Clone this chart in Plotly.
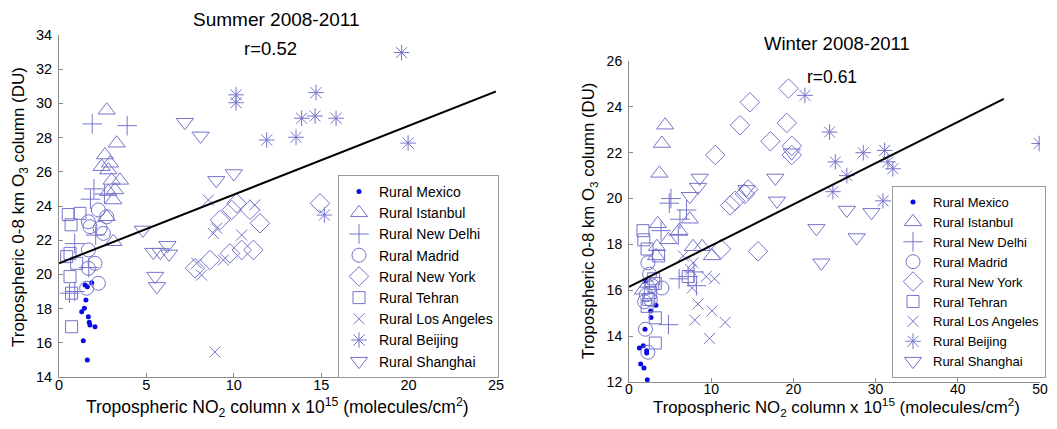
import plotly.graph_objects as go

# ---------------- Data: Summer (left) ----------------
s_mexico_x = [1.49, 1.62, 1.87, 1.54, 1.45, 1.30, 1.68, 1.73, 1.77, 2.06, 1.39, 1.62]
s_mexico_y = [19.38, 19.28, 19.51, 18.50, 18.02, 17.82, 17.53, 17.20, 17.04, 16.94, 16.12, 15.0]
s_istanbul_x = [2.73, 3.30, 2.63, 2.92, 2.44, 2.82, 3.01, 3.49, 2.82, 3.20, 3.11, 2.73, 3.11]
s_istanbul_y = [29.6, 27.67, 26.98, 26.5, 26.3, 26.1, 25.5, 25.5, 24.84, 24.94, 24.35, 23.37, 21.91]
s_delhi_x = [1.9, 3.9, 2.0, 1.8, 2.6, 0.9, 1.7, 2.1, 0.6, 0.9]
s_delhi_y = [28.8, 28.7, 25.0, 24.4, 24.7, 21.8, 20.4, 22.3, 18.9, 19.0]
s_madrid_x = [2.25, 1.68, 1.77, 2.35, 2.73, 2.54, 1.68, 2.06, 1.68, 2.25, 1.58]
s_madrid_y = [23.77, 23.08, 22.79, 22.7, 23.37, 22.4, 21.43, 20.65, 20.36, 19.48, 19.19]
s_newyork_x = [10.16, 9.88, 10.93, 9.21, 11.5, 9.78, 10.45, 11.12, 8.64, 7.78, 14.93]
s_newyork_y = [24.16, 23.77, 23.77, 23.18, 22.99, 21.23, 21.43, 21.43, 20.84, 20.36, 24.16]
s_tehran_x = [0.53, 1.2, 0.69, 0.63, 0.44, 1.01, 0.63, 0.72, 0.72]
s_tehran_y = [23.5, 23.57, 22.9, 21.23, 21.04, 20.65, 19.87, 18.9, 16.94]
s_la_x = [8.54, 10.45, 9.4, 8.16, 7.88, 9.02, 8.83, 11.2, 8.92]
s_la_y = [24.35, 22.3, 20.84, 19.96, 20.65, 22.7, 22.4, 24.06, 15.46]
s_beijing_x = [19.6, 10.13, 10.13, 14.7, 13.88, 14.65, 15.85, 11.88, 13.56, 15.18, 19.97]
s_beijing_y = [32.97, 30.5, 30.04, 30.63, 29.13, 29.26, 29.13, 27.86, 28.02, 23.47, 27.68]
s_shanghai_x = [7.2, 8.1, 9.0, 10.0, 4.8, 5.4, 5.8, 6.2, 6.3, 5.5, 5.6]
s_shanghai_y = [28.9, 28.1, 25.5, 25.9, 22.6, 21.3, 21.3, 21.7, 21.2, 19.9, 19.3]
s_fit_x = [0, 25]
s_fit_y = [20.65, 30.7]

# ---------------- Data: Winter (right) ----------------
w_mexico_x = [2.03, 3.28, 2.64, 2.68, 1.95, 1.26, 1.74, 2.15, 2.15, 1.42, 1.82, 2.23]
w_mexico_y = [16.4, 15.35, 15.1, 14.81, 14.3, 13.48, 13.58, 13.36, 13.26, 12.78, 12.61, 12.1]
w_istanbul_x = [4.4, 4.0, 3.7, 7.4, 6.1, 4.8, 3.5, 3.4, 7.8, 8.9, 10.1, 1.7, 2.3, 3.3]
w_istanbul_y = [23.2, 22.4, 21.1, 19.1, 18.6, 18.2, 18.9, 17.9, 17.9, 17.9, 17.5, 16.0, 16.3, 17.5]
w_delhi_x = [5.1, 4.9, 7.0, 6.2, 6.0, 3.9, 6.1, 7.2, 7.9, 8.2, 4.8]
w_delhi_y = [20.0, 19.8, 19.5, 19.1, 18.4, 18.6, 16.5, 16.6, 16.8, 16.2, 14.5]
w_madrid_x = [2.3, 2.5, 4.0, 2.1, 1.9, 2.8, 2.0, 2.3, 2.6]
w_madrid_y = [17.2, 16.7, 16.1, 15.8, 15.5, 16.2, 14.3, 13.3, 15.6]
w_newyork_x = [19.4, 14.7, 13.5, 19.2, 17.2, 19.8, 19.8, 10.5, 14.5, 14.1, 12.9, 12.3, 11.2, 15.7]
w_newyork_y = [24.8, 24.2, 23.2, 23.3, 22.5, 22.3, 21.9, 21.9, 20.4, 20.2, 19.9, 19.7, 17.8, 17.7]
w_tehran_x = [1.7, 1.8, 2.2, 3.6, 3.0, 3.2, 2.6, 2.2, 3.2, 3.2, 7.2, 2.4]
w_tehran_y = [18.6, 18.2, 17.8, 17.5, 16.5, 16.3, 15.9, 15.3, 14.8, 13.7, 16.6, 15.6]
w_la_x = [6.6, 7.8, 7.5, 9.4, 10.4, 7.7, 8.4, 10.1, 11.7, 8.0, 9.8]
w_la_y = [17.5, 17.2, 16.9, 16.6, 16.5, 16.1, 15.4, 15.1, 14.6, 14.7, 13.9]
w_beijing_x = [21.4, 24.4, 25.1, 28.5, 31.1, 31.5, 32.1, 26.5, 24.8, 30.9, 49.9]
w_beijing_y = [24.5, 22.9, 21.6, 22.0, 22.1, 21.6, 21.3, 21.0, 20.3, 19.9, 22.4]
w_shanghai_x = [8.6, 8.4, 7.4, 14.3, 17.8, 18.0, 19.8, 22.8, 23.4, 26.5, 29.5, 27.7]
w_shanghai_y = [20.9, 20.5, 20.1, 20.4, 20.9, 19.9, 22.0, 18.7, 17.2, 19.5, 19.4, 18.3]
w_fit_x = [0, 45.6]
w_fit_y = [16.15, 24.35]

names = ["Rural Mexico", "Rural Istanbul", "Rural New Delhi", "Rural Madrid",
         "Rural New York", "Rural Tehran", "Rural Los Angeles", "Rural Beijing",
         "Rural Shanghai"]

summer = [(s_mexico_x, s_mexico_y), (s_istanbul_x, s_istanbul_y), (s_delhi_x, s_delhi_y),
          (s_madrid_x, s_madrid_y), (s_newyork_x, s_newyork_y), (s_tehran_x, s_tehran_y),
          (s_la_x, s_la_y), (s_beijing_x, s_beijing_y), (s_shanghai_x, s_shanghai_y)]
winter = [(w_mexico_x, w_mexico_y), (w_istanbul_x, w_istanbul_y), (w_delhi_x, w_delhi_y),
          (w_madrid_x, w_madrid_y), (w_newyork_x, w_newyork_y), (w_tehran_x, w_tehran_y),
          (w_la_x, w_la_y), (w_beijing_x, w_beijing_y), (w_shanghai_x, w_shanghai_y)]

OPEN = "#7474cc"
styles = [
    dict(symbol="circle", size=5, color="#0a0ae8", line=dict(width=0)),
    dict(symbol="triangle-up-open", size=15, color=OPEN, line=dict(width=1)),
    dict(symbol="cross-thin-open", size=14, color=OPEN, line=dict(width=1, color=OPEN)),
    dict(symbol="circle-open", size=14, color=OPEN, line=dict(width=1)),
    dict(symbol="diamond-open", size=15, color=OPEN, line=dict(width=1)),
    dict(symbol="square-open", size=12, color=OPEN, line=dict(width=1)),
    dict(symbol="x-thin-open", size=11, color=OPEN, line=dict(width=1, color=OPEN)),
    dict(symbol="asterisk-open", size=13, color=OPEN, line=dict(width=1, color=OPEN)),
    dict(symbol="triangle-down-open", size=15, color=OPEN, line=dict(width=1)),
]

FONT = "Arial, Liberation Sans, sans-serif"
fig = go.Figure()

for i, (xs, ys) in enumerate(summer):
    fig.add_trace(go.Scatter(x=xs, y=ys, mode="markers", name=names[i], marker=styles[i],
                             xaxis="x", yaxis="y", legend="legend"))
fig.add_trace(go.Scatter(x=s_fit_x, y=s_fit_y, mode="lines", line=dict(color="black", width=2),
                         showlegend=False, xaxis="x", yaxis="y"))
for i, (xs, ys) in enumerate(winter):
    fig.add_trace(go.Scatter(x=xs, y=ys, mode="markers", name=names[i], marker=styles[i],
                             xaxis="x2", yaxis="y2", legend="legend2"))
fig.add_trace(go.Scatter(x=w_fit_x, y=w_fit_y, mode="lines", line=dict(color="black", width=2),
                         showlegend=False, xaxis="x2", yaxis="y2"))

# page body has an 8px margin: figure sized to fit inside the 1057x429 window
OFF = 8
W, H = 1057 - 2 * OFF, 429 - 2 * OFF
def px(v): return (v - OFF) / W
def py(v): return 1 - (v - OFF) / H

def axis_style(fs, standoff):
    return dict(showline=True, linecolor="#8c8c8c", linewidth=1, ticks="inside", ticklen=4,
                tickcolor="#8c8c8c", showgrid=False, zeroline=False, mirror=False,
                automargin=False, ticklabelstandoff=standoff,
                tickfont=dict(family=FONT, size=fs, color="black"))

fig.update_layout(
    width=W, height=H, margin=dict(l=0, r=0, t=0, b=0, autoexpand=False),
    paper_bgcolor="white", plot_bgcolor="white",
    font=dict(family=FONT, color="black"),
    xaxis=dict(domain=[px(59), px(496)], range=[0, 25], tickvals=[0, 5, 10, 15, 20, 25],
               anchor="y", **axis_style(14.5, -5)),
    yaxis=dict(domain=[py(377), py(35)], range=[14, 34],
               tickvals=[14, 16, 18, 20, 22, 24, 26, 28, 30, 32, 34], anchor="x",
               **axis_style(14.5, 3)),
    xaxis2=dict(domain=[px(629), px(1040)], range=[0, 50], tickvals=[0, 10, 20, 30, 40, 50],
                anchor="y2", **axis_style(14, -6)),
    yaxis2=dict(domain=[py(382), py(61)], range=[12, 26],
                tickvals=[12, 14, 16, 18, 20, 22, 24, 26], anchor="x2", **axis_style(14, 3)),
    legend=dict(x=px(499), y=py(378), xanchor="right", yanchor="bottom", bgcolor="white",
                bordercolor="#9a9a9a", borderwidth=1, font=dict(family=FONT, size=14),
                itemwidth=30, tracegroupgap=0),
    legend2=dict(x=px(1046), y=py(378), xanchor="right", yanchor="bottom", bgcolor="white",
                 bordercolor="#9a9a9a", borderwidth=1, font=dict(family=FONT, size=13),
                 itemwidth=30, tracegroupgap=0),
)

xt = "Tropospheric NO<sub>2</sub> column x 10<sup>15</sup> (molecules/cm<sup>2</sup>)"
yt = "Tropospheric 0-8 km O<sub>3</sub> column (DU)"
ann = [
    dict(text="Summer 2008-2011", x=px(276), y=py(20), size=19),
    dict(text="r=0.52", x=px(270), y=py(48), size=18.5),
    dict(text="Winter 2008-2011", x=px(837), y=py(43), size=18.5),
    dict(text="r=0.61", x=px(832), y=py(77), size=17.5),
    dict(text=xt, x=px(277), y=py(407), size=17.5),
    dict(text=xt, x=px(836), y=py(407), size=16.8),
]
for a in ann:
    fig.add_annotation(text=a["text"], x=a["x"], y=a["y"], xref="paper", yref="paper",
                       xanchor="center", yanchor="middle", showarrow=False,
                       font=dict(family=FONT, size=a["size"], color="black"))
for xc, yc, fs in [(20, 207, 17), (589, 221, 16.8)]:
    fig.add_annotation(text=yt, x=px(xc), y=py(yc), xref="paper", yref="paper", textangle=-90,
                       xanchor="center", yanchor="middle", showarrow=False,
                       font=dict(family=FONT, size=fs, color="black"))

fig.write_html("out.html")
